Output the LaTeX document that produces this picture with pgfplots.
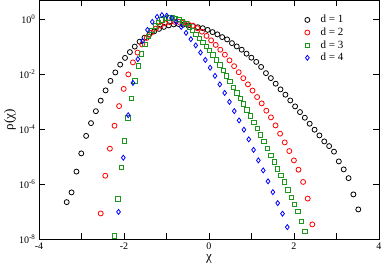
\documentclass[border=0pt]{standalone}
\usepackage{fontspec}
\setmainfont{Liberation Serif}
\usepackage{pgfplots}
\pgfplotsset{compat=1.18}
\definecolor{gGreen}{RGB}{30,150,30}
\begin{document}
\begin{tikzpicture}
\begin{axis}[
  at={(0pt,0pt)}, anchor=south west,
  scale only axis, width=340pt, height=239pt,
  xmin=-4, xmax=4, ymode=log, ymin=1e-8, ymax=4.9,
  xtick={-4,-2,0,2,4}, xticklabels={-4,-2,0,2,4},
  minor xtick={-3,-1,1,3},
  ytick={1e-8,1e-6,1e-4,1e-2,1},
  yticklabels={10\textsuperscript{-8},10\textsuperscript{-6},10\textsuperscript{-4},10\textsuperscript{-2},10\textsuperscript{0}},
  yminorticks=false,
  tick align=inside, major tick length=6pt, minor tick length=6pt,
  tick style={black, line width=0.8pt},
  axis line style={line width=0.8pt},
  ticklabel style={font=\fontsize{10}{12}\selectfont},
  xticklabel style={inner sep=1pt, yshift=-2pt},
  xlabel={χ}, ylabel={ρ(χ)},
  label style={font=\fontsize{13}{15}\selectfont},
  xlabel style={at={(axis description cs:0.5,-0.0628)}, anchor=north, inner sep=0pt},
  ylabel style={at={(axis description cs:-0.0853,0.5)}, anchor=center},
  legend style={draw=none, fill=none, at={(rel axis cs:0.772,0.955)}, anchor=north west,
    font=\fontsize{11}{13}\selectfont, row sep=-0.5pt},
  legend cell align=left,
  legend image code/.code={\draw[#1] plot coordinates {(0pt,0pt)}; \path (-2.5pt,0pt) (11pt,0pt);},
]
\addplot[only marks, mark=o, mark size=2.5pt, black, mark options={line width=0.8pt}] coordinates {
(-3.348,2.27e-7) (-3.234,5.12e-7) (-3.119,2.92e-6) (-3.005,1.34e-5) (-2.891,5.81e-5)
(-2.776,1.69e-4) (-2.662,4.59e-4) (-2.548,1.11e-3) (-2.433,2.62e-3) (-2.319,5.81e-3)
(-2.204,1.18e-2) (-2.090,2.27e-2) (-1.976,3.98e-2) (-1.861,6.47e-2) (-1.747,0.1026)
(-1.633,0.1545) (-1.518,0.216) (-1.404,0.285) (-1.290,0.366) (-1.175,0.452)
(-1.061,0.533) (-0.947,0.605) (-0.832,0.658) (-0.718,0.681) (-0.604,0.641)
(-0.489,0.605) (-0.375,0.566) (-0.261,0.520) (-0.146,0.479) (-0.032,0.415)
(0.083,0.345) (0.197,0.285) (0.311,0.227) (0.426,0.187) (0.540,0.137)
(0.654,0.104) (0.769,7.91e-2) (0.883,5.66e-2) (0.997,4.05e-2) (1.112,2.85e-2)
(1.226,1.87e-2) (1.340,1.11e-2) (1.455,7.33e-3) (1.569,4.59e-3) (1.683,2.85e-3)
(1.798,1.83e-3) (1.912,1.13e-3) (2.026,6.86e-4) (2.141,4.26e-4) (2.255,2.66e-4)
(2.369,1.61e-4) (2.484,9.75e-5) (2.598,6.05e-5) (2.712,3.66e-5) (2.827,2.47e-5)
(2.941,1.55e-5) (3.055,6.86e-6) (3.170,3.51e-6) (3.284,1.69e-6) (3.398,4.33e-7)
(3.513,1.23e-7)
};
\addlegendentry{d = 1}
\addplot[only marks, mark=o, mark size=2.5pt, red, mark options={line width=0.8pt}] coordinates {
(-2.548,8.81e-8) (-2.440,2.07e-6) (-2.332,1.99e-5) (-2.223,1.36e-4) (-2.115,7.03e-4)
(-2.007,2.97e-3) (-1.899,1.0e-2) (-1.790,2.73e-2) (-1.682,6.21e-2) (-1.574,0.123)
(-1.466,0.212) (-1.357,0.328) (-1.249,0.463) (-1.141,0.595) (-1.033,0.716)
(-0.924,0.791) (-0.816,0.825) (-0.708,0.811) (-0.600,0.759) (-0.491,0.686)
(-0.383,0.590) (-0.275,0.479) (-0.167,0.357) (-0.058,0.251) (0.050,0.172)
(0.158,0.118) (0.266,7.91e-2) (0.374,5.20e-2) (0.483,3.23e-2) (0.591,1.99e-2)
(0.699,1.20e-2) (0.807,7.28e-3) (0.916,4.33e-3) (1.024,2.58e-3) (1.132,1.50e-3)
(1.240,8.81e-4) (1.349,4.79e-4) (1.457,2.73e-4) (1.565,1.40e-4) (1.673,6.98e-5)
(1.782,3.37e-5) (1.890,1.63e-5) (1.998,7.46e-6) (2.106,3.43e-6) (2.215,1.23e-6)
(2.323,3.05e-7) (2.431,3.51e-8)
};
\addlegendentry{d = 2}
\addplot[only marks, mark=square, mark size=2.2pt, gGreen, mark options={line width=0.8pt}] coordinates {
(-2.228,1.36e-8) (-2.148,3.02e-7) (-2.068,4.05e-6) (-1.988,3.82e-5) (-1.908,2.62e-4)
(-1.828,1.37e-3) (-1.748,5.81e-3) (-1.668,2.04e-2) (-1.588,5.56e-2) (-1.508,0.123)
(-1.428,0.241) (-1.348,0.398) (-1.268,0.580) (-1.188,0.778) (-1.108,0.944)
(-1.028,1.06) (-0.948,1.13) (-0.868,1.15) (-0.788,1.11) (-0.708,1.0)
(-0.628,0.846) (-0.548,0.698) (-0.468,0.533) (-0.388,0.398) (-0.308,0.285)
(-0.228,0.204) (-0.148,0.146) (-0.068,0.104) (0.012,7.28e-2) (0.092,5.03e-2)
(0.172,3.37e-2) (0.252,2.21e-2) (0.332,1.40e-2) (0.412,8.67e-3) (0.492,5.56e-3)
(0.572,3.45e-3) (0.652,2.12e-3) (0.732,1.34e-3) (0.812,8.45e-4) (0.892,5.12e-4)
(0.972,3.10e-4) (1.052,1.84e-4) (1.132,1.09e-4) (1.212,6.21e-5) (1.292,3.57e-5)
(1.372,2.00e-5) (1.452,1.16e-5) (1.532,6.58e-6) (1.612,3.72e-6) (1.692,2.12e-6)
(1.772,1.23e-6) (1.852,6.41e-7) (1.932,3.45e-7) (2.012,1.84e-7) (2.092,1.03e-7)
(2.172,4.59e-8) (2.252,1.91e-8)
};
\addlegendentry{d = 3}
\addplot[only marks, mark=diamond, mark size=2.5pt, blue, mark options={line width=0.8pt}] coordinates {
(-2.129,1.0e-7) (-2.016,9.35e-6) (-1.902,3.28e-4) (-1.789,4.91e-3) (-1.675,3.60e-2)
(-1.562,0.165) (-1.448,0.415) (-1.335,0.811) (-1.221,1.23) (-1.108,1.43)
(-0.994,1.36) (-0.881,1.13) (-0.767,0.811) (-0.654,0.533) (-0.540,0.323)
(-0.427,0.191) (-0.313,0.113) (-0.200,6.21e-2) (-0.086,3.37e-2) (0.027,1.75e-2)
(0.141,8.81e-3) (0.254,4.33e-3) (0.368,2.12e-3) (0.481,1.0e-3) (0.595,4.62e-4)
(0.708,2.12e-4) (0.822,9.75e-5) (0.935,4.33e-5) (1.049,1.80e-5) (1.162,7.46e-6)
(1.276,3.23e-6) (1.389,1.29e-6) (1.503,5.25e-7) (1.616,2.09e-7) (1.730,8.61e-8)
(1.843,2.80e-8)
};
\addlegendentry{d = 4}
\end{axis}
\pgfresetboundingbox
\path (-39pt,-26pt) rectangle (343pt,239.4pt);
\end{tikzpicture}
\end{document}
